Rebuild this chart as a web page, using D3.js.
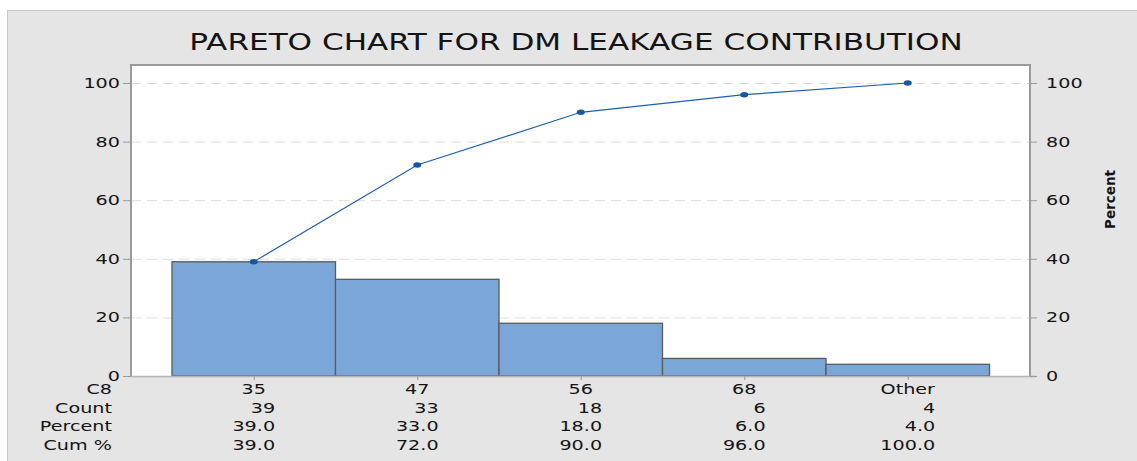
<!DOCTYPE html>
<html>
<head>
<meta charset="utf-8">
<script src="https://cdn.jsdelivr.net/npm/d3@7"></script>
<style>
  html, body { margin: 0; padding: 0; background: #fff; }
  svg { display: block; }
  text { font-family: "DejaVu Sans", Verdana, sans-serif; fill: #141414; }
</style>
</head>
<body>
<div id="chart"></div>
<script>
const categories = ["35", "47", "56", "68", "Other"];
const counts = [39, 33, 18, 6, 4];
const percents = [39.0, 33.0, 18.0, 6.0, 4.0];
const cumPercents = [39.0, 72.0, 90.0, 96.0, 100.0];
const yTicks = [0, 20, 40, 60, 80, 100];
const rowLabels = ["C8", "Count", "Percent", "Cum %"];

const width = 1137;
const height = 461;
const plot = { left: 131, right: 1030, top: 65, bottom: 376 };
const sx = 1.4;      // the source picture is stretched sideways
const fs = 13.7;

const svg = d3.select("#chart")
    .append("svg")
    .attr("width", width)
    .attr("height", height);

// panneau gris de fond
svg.append("rect")
    .attr("x", 7.5).attr("y", 10.5)
    .attr("width", width).attr("height", height)
    .attr("fill", "#e5e5e5")
    .attr("stroke", "#c9c9c9");

svg.append("rect")
    .attr("x", plot.left).attr("y", plot.top)
    .attr("width", plot.right - plot.left)
    .attr("height", plot.bottom - plot.top)
    .attr("fill", "#fff");

const x = d3.scaleBand()
    .domain(categories)
    .range([172, 989.5])
    .paddingInner(0);

const y = d3.scaleLinear()
    .domain([0, 100])
    .range([plot.bottom, 83]);

// texte étiré horizontalement
function put(sel, tx, ty, k) {
    return sel.attr("x", 0).attr("y", 0)
        .attr("transform", `translate(${tx},${ty}) scale(${k},1)`);
}

// grille
svg.append("g")
    .selectAll("line")
    .data(yTicks.filter(d => d > 0))
    .join("line")
    .attr("x1", plot.left).attr("x2", plot.right)
    .attr("y1", d => y(d) + 0.5).attr("y2", d => y(d) + 0.5)
    .attr("stroke", "#dcdcdc")
    .attr("stroke-dasharray", "10,6");

// barres
svg.append("g")
    .selectAll("rect")
    .data(categories)
    .join("rect")
    .attr("x", d => x(d))
    .attr("y", (d, i) => y(counts[i]))
    .attr("width", x.bandwidth())
    .attr("height", (d, i) => y(0) - y(counts[i]))
    .attr("fill", "#7ba6d8")
    .attr("stroke", "#5b5b5b")
    .attr("stroke-width", 1.3);

// cadre
const frame = svg.append("g").attr("stroke", "#9a9a9a").attr("fill", "none");
frame.append("path")
    .attr("d", `M${plot.left},${plot.bottom}V${plot.top}H${plot.right}V${plot.bottom}`)
    .attr("stroke-width", 2);
frame.append("line")
    .attr("x1", plot.left).attr("x2", plot.right + 6)
    .attr("y1", plot.bottom + 0.5).attr("y2", plot.bottom + 0.5)
    .attr("stroke", "#b4b4b4").attr("stroke-width", 1.5);

// graduations gauche et droite
const ticks = svg.append("g");
yTicks.forEach(t => {
    ticks.append("line")
        .attr("x1", plot.left - 8).attr("x2", plot.left)
        .attr("y1", y(t) + 0.5).attr("y2", y(t) + 0.5)
        .attr("stroke", "#9a9a9a");
    ticks.append("line")
        .attr("x1", plot.right).attr("x2", plot.right + 7)
        .attr("y1", y(t) + 0.5).attr("y2", y(t) + 0.5)
        .attr("stroke", "#9a9a9a");
    put(ticks.append("text").text(t).attr("text-anchor", "end")
        .attr("font-size", fs), 120, y(t) + 5, sx);
    put(ticks.append("text").text(t).attr("text-anchor", "start")
        .attr("font-size", fs), 1046, y(t) + 5, sx);
});

categories.forEach(c => {
    const cx = x(c) + x.bandwidth() / 2;
    ticks.append("line")
        .attr("x1", cx + 0.5).attr("x2", cx + 0.5)
        .attr("y1", plot.bottom).attr("y2", plot.bottom + 4)
        .attr("stroke", "#9a9a9a");
});

// ligne cumulée
const line = d3.line()
    .x((d, i) => x(categories[i]) + x.bandwidth() / 2)
    .y(d => y(d));

svg.append("path")
    .datum(cumPercents)
    .attr("d", line)
    .attr("fill", "none")
    .attr("stroke", "#1f5fb0")
    .attr("stroke-width", 1.2);

svg.append("g")
    .selectAll("ellipse")
    .data(cumPercents)
    .join("ellipse")
    .attr("cx", (d, i) => x(categories[i]) + x.bandwidth() / 2)
    .attr("cy", d => y(d))
    .attr("rx", 4)
    .attr("ry", 2.7)
    .attr("fill", "#1557a8");

// titre
put(svg.append("text")
    .text("PARETO CHART FOR DM LEAKAGE CONTRIBUTION")
    .attr("text-anchor", "middle")
    .attr("font-size", 23.3), 576, 50, 1.335);

// titre axe droit
svg.append("text")
    .text("Percent")
    .attr("text-anchor", "middle")
    .attr("font-size", 13.5)
    .attr("font-weight", "bold")
    .attr("x", 0).attr("y", 0)
    .attr("transform", "translate(1115,199.5) scale(1.08,1) rotate(-90)");

// tableau sous l'axe
const rowY = [394, 412.7, 431.4, 450];
const table = svg.append("g").attr("font-size", fs);

rowLabels.forEach((r, j) => {
    put(table.append("text").text(r).attr("text-anchor", "end"), 112, rowY[j], sx);
});

categories.forEach((c, i) => {
    const cx = x(c) + x.bandwidth() / 2;
    put(table.append("text").text(c).attr("text-anchor", "middle"), cx, rowY[0], sx);
    const vals = [String(counts[i]), percents[i].toFixed(1), cumPercents[i].toFixed(1)];
    const nodes = vals.map((v, j) =>
        put(table.append("text").text(v).attr("text-anchor", "end"), 0, rowY[j + 1], sx));
    const maxW = d3.max(nodes, n => n.node().getComputedTextLength()) * sx;
    nodes.forEach((n, j) =>
        n.attr("transform", `translate(${cx + maxW / 2},${rowY[j + 1]}) scale(${sx},1)`));
});
</script>
</body>
</html>
